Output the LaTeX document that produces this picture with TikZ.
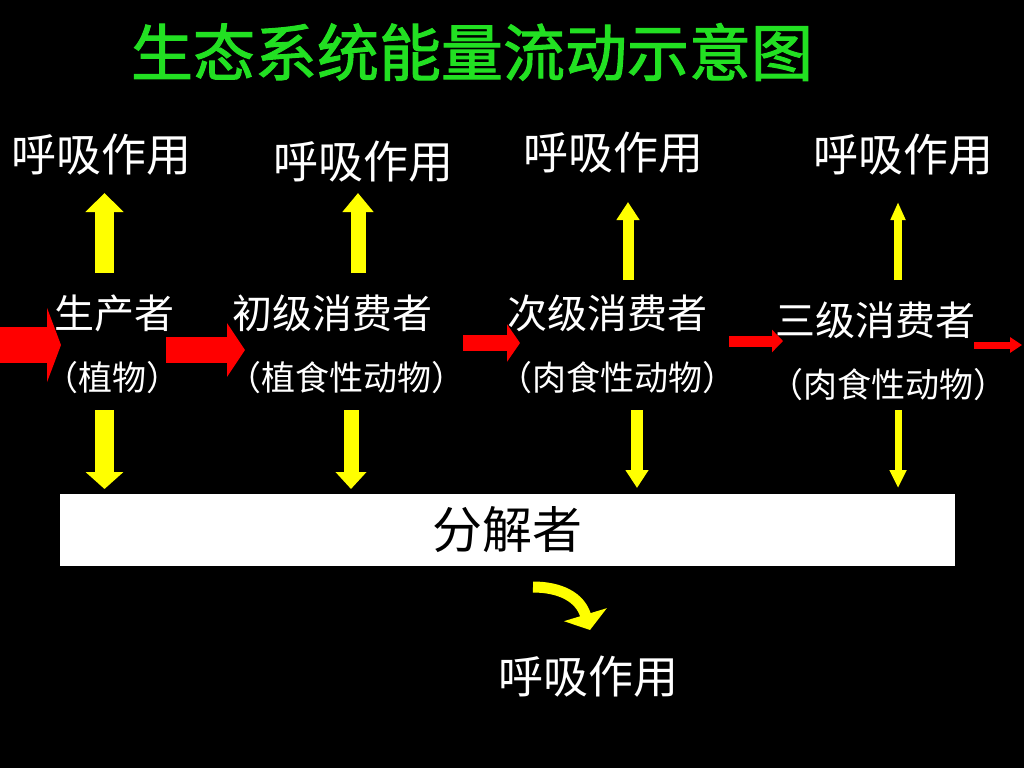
\documentclass[tikz,border=0pt]{standalone}
\usepackage{fontspec}
\newfontfamily\cjk{Noto Sans CJK SC}
\newfontfamily\cjktitle{Noto Sans CJK SC}[FakeBold=1.6]
\usetikzlibrary{arrows.meta}
\definecolor{titlegreen}{RGB}{34,224,34}
\definecolor{ayellow}{RGB}{255,255,0}
\definecolor{ared}{RGB}{255,0,0}
\tikzset{
  txt/.style={text=white, inner sep=0pt, font=\cjk\fontsize{#1}{#1}\selectfont},
  resp/.style={txt=45},
  nm/.style={txt=40},
  sub/.style={txt=34},
  yarrow/.style n args={3}{draw=ayellow, line width=#1, -{Triangle[width=#2,length=#3]}},
  rarrow/.style n args={3}{draw=ared, line width=#1, -{Triangle[width=#2,length=#3]}}
}
\begin{document}
\begin{tikzpicture}[x=1pt,y=-1pt]
\fill[black] (0,0) rectangle (1024,768);
\useasboundingbox (0,0) rectangle (1024,768);
% title
\node[text=titlegreen, inner sep=0pt, font=\cjktitle\fontsize{62}{62}\selectfont] (title) at (472,52) {生态系统能量流动示意图};
% respiration labels
\node[resp] (r1) at (101,155) {呼吸作用};
\node[resp] (r2) at (363,162) {呼吸作用};
\node[resp] (r3) at (613,153) {呼吸作用};
\node[resp] (r4) at (903,155) {呼吸作用};
\node[resp] (r5) at (588,677) {呼吸作用};
% trophic levels
\node[nm] (n1) at (114,313) {生产者};
\node[sub] (s1) at (112,378) {（植物）};
\node[nm] (n2) at (332,313) {初级消费者};
\node[sub] (s2) at (346,378) {（植食性动物）};
\node[nm] (n3) at (607,313) {次级消费者};
\node[sub] (s3) at (617,378) {（肉食性动物）};
\node[nm] (n4) at (875,320) {三级消费者};
\node[sub] (s4) at (888,385) {（肉食性动物）};
% decomposer box
\node[fill=white, inner sep=0pt, minimum width=895pt, minimum height=72pt, text=black, font=\cjk\fontsize{50}{50}\selectfont] (dec) at (507.5,530) {分解者};
% arrow coordinates
\coordinate (ua1) at (104.5,273); \coordinate (ub1) at (104.5,193);
\coordinate (ua2) at (358,273);   \coordinate (ub2) at (358,193);
\coordinate (ua3) at (628,280);   \coordinate (ub3) at (628,202);
\coordinate (ua4) at (898,280);   \coordinate (ub4) at (898,202);
\coordinate (da1) at (104.5,410); \coordinate (db1) at (104.5,489);
\coordinate (da2) at (351,410);   \coordinate (db2) at (351,489);
\coordinate (da3) at (637,410);   \coordinate (db3) at (637,488);
\coordinate (da4) at (898,410);   \coordinate (db4) at (898,488);
\coordinate (ra1) at (0,345);     \coordinate (rb1) at (61,345);
\coordinate (ra2) at (166,350);   \coordinate (rb2) at (245,350);
\coordinate (ra3) at (463,343);   \coordinate (rb3) at (520,343);
\coordinate (ra4) at (729,341);   \coordinate (rb4) at (783,341);
\coordinate (ra5) at (974,345);   \coordinate (rb5) at (1022,345);
\coordinate (ca) at (533,587);    \coordinate (cb) at (590,630);
% up arrows (respiration)
\draw[yarrow={19pt}{37pt}{19pt}] (ua1) -- (ub1);
\draw[yarrow={15pt}{30pt}{19pt}] (ua2) -- (ub2);
\draw[yarrow={11pt}{22pt}{18pt}] (ua3) -- (ub3);
\draw[yarrow={8pt}{14pt}{18pt}] (ua4) -- (ub4);
% down arrows (to decomposer)
\draw[yarrow={19pt}{37pt}{17pt}] (da1) -- (db1);
\draw[yarrow={15pt}{30pt}{17pt}] (da2) -- (db2);
\draw[yarrow={12pt}{22pt}{18pt}] (da3) -- (db3);
\draw[yarrow={7pt}{16pt}{18pt}] (da4) -- (db4);
% red energy flow arrows
\draw[rarrow={36pt}{74pt}{14pt}] (ra1) -- (rb1);
\draw[rarrow={26pt}{53pt}{18pt}] (ra2) -- (rb2);
\draw[rarrow={16pt}{37pt}{13pt}] (ra3) -- (rb3);
\draw[rarrow={11pt}{22pt}{11pt}] (ra4) -- (rb4);
\draw[rarrow={7pt}{15pt}{12pt}] (ra5) -- (rb5);
% curved arrow from decomposer
\draw[yarrow={11pt}{44pt}{16pt}] (ca) .. controls (560,587) and (580,597) .. (cb);
\end{tikzpicture}
\end{document}
